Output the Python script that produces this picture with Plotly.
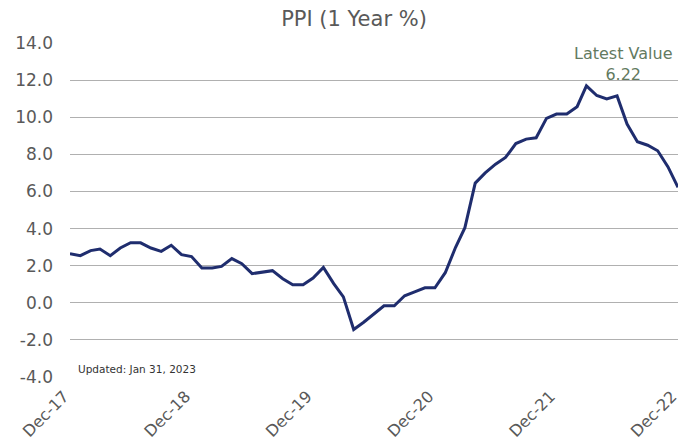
import plotly.graph_objects as go
import pandas as pd

months = [d.strftime("%Y-%m-%d") for d in pd.date_range("2017-12-01", "2022-12-01", freq="MS")]
ppi_yoy = [
    2.65, 2.54, 2.81, 2.90, 2.54, 2.95, 3.24, 3.23, 2.95, 2.77, 3.10, 2.59,
    2.49, 1.87, 1.87, 1.96, 2.38, 2.11, 1.57, 1.66, 1.73, 1.30, 0.97, 0.97,
    1.33, 1.91, 1.03, 0.32, -1.44, -1.05, -0.60, -0.16, -0.16, 0.38, 0.59, 0.81,
    0.81, 1.62, 2.99, 4.05, 6.45, 7.00, 7.47, 7.83, 8.58, 8.82, 8.89, 9.94,
    10.17, 10.17, 10.57, 11.69, 11.17, 10.99, 11.15, 9.63, 8.68, 8.49, 8.19, 7.32,
    6.22,
]
tick_dates = ["2017-12-01", "2018-12-01", "2019-12-01", "2020-12-01", "2021-12-01", "2022-12-01"]
tick_labels = ["Dec-17", "Dec-18", "Dec-19", "Dec-20", "Dec-21", "Dec-22"]
y_ticks = [-4, -2, 0, 2, 4, 6, 8, 10, 12, 14]
y_labels = ["-4.0", "-2.0", "0.0", "2.0", "4.0", "6.0", "8.0", "10.0", "12.0", "14.0"]

FONT = "DejaVu Sans, Verdana, sans-serif"

W, H = 683, 443
ML, MR, MT, MB = 70, 5, 43, 66
PW, PH = W - ML - MR, H - MT - MB

fig = go.Figure()
fig.add_trace(go.Scatter(
    x=months, y=ppi_yoy, mode="lines",
    line=dict(color="#1f2d6e", width=3),
    hoverinfo="skip", showlegend=False, cliponaxis=False,
))

fig.update_layout(
    width=W, height=H,
    margin=dict(l=ML, r=MR, t=MT, b=MB),
    paper_bgcolor="white", plot_bgcolor="white",
    font=dict(family=FONT, color="#595959"),
    title=dict(text="PPI (1 Year %)", x=354 / W, xanchor="center", y=1 - 19 / H, yanchor="middle",
               font=dict(size=21, color="#595959", family=FONT)),
    xaxis=dict(
        type="date",
        range=[months[0], months[-1]],
        tickvals=tick_dates, ticktext=[t + "\u00a0\u2009" for t in tick_labels],
        tickangle=-45, tickfont=dict(size=16, color="#595959"),
        showgrid=False, zeroline=False, showline=False, ticks="",
        ticklabelstandoff=0, ticklabeloverflow="allow",
        automargin=False,
    ),
    yaxis=dict(
        range=[-4, 14], tickvals=y_ticks, ticktext=y_labels,
        tickfont=dict(size=17, color="#595959"),
        showgrid=True, gridcolor="#b0b0b0", gridwidth=1,
        zeroline=False, showline=False, ticks="", ticklabelstandoff=16,
        automargin=False,
    ),
    annotations=[
        dict(text="Latest Value<br>6.22", xref="paper", yref="paper",
             x=(623 - ML) / PW, y=(H - MB - 64) / PH, xanchor="center", yanchor="middle",
             showarrow=False, font=dict(size=16, color="#637a5f", family=FONT)),
        dict(text="Updated: Jan 31, 2023", xref="paper", yref="paper",
             x=(76 - ML) / PW, y=(H - MB - 369) / PH, xanchor="left", yanchor="middle",
             showarrow=False, font=dict(size=10.5, color="#333333", family=FONT)),
    ],
)

fig.write_html(
    "out.html",
    config={"displayModeBar": False},
    post_script="document.body.style.margin='0';document.body.style.overflow='hidden';",
)
